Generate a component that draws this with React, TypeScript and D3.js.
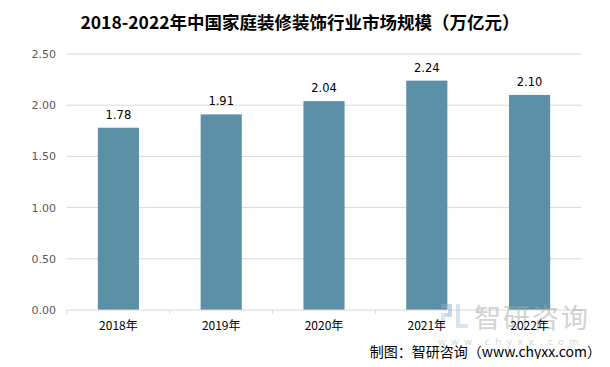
import { scaleBand, scaleLinear } from "d3";

const years = ["2018年", "2019年", "2020年", "2021年", "2022年"];
const values = [1.78, 1.91, 2.04, 2.24, 2.1];
const yTicks = [0, 0.5, 1, 1.5, 2, 2.5];

const W = 610;
const H = 367;
const margin = { left: 67, right: 29, top: 54, bottom: 57 };

export default function App() {
  const x = scaleBand<string>()
    .domain(years)
    .range([margin.left, W - margin.right])
    .paddingInner(0.6)
    .paddingOuter(0.3);
  const y = scaleLinear().domain([0, 2.5]).range([H - margin.bottom, margin.top]);
  const step = x.step();
  const cjk = "'Noto Sans CJK SC', 'Noto Sans', sans-serif";

  return (
    <div style={{ margin: -8, width: W, height: H }}>
      <svg width={W} height={H} style={{ display: "block", fontFamily: cjk }}>
        <rect x={0} y={0} width={W} height={H} fill="#fff" />
        <rect x={2.5} y={2.5} width={604} height={363} fill="none" stroke="#a6a6a6" strokeWidth={1} />

        {/* Title */}
        <text x={300} y={29} textAnchor="middle" fontSize={17.5} fontWeight="bold" fill="#000">
          2018-2022年中国家庭装修装饰行业市场规模（万亿元）
        </text>

        {/* Grid */}
        {yTicks.map((t) => (
          <g key={t}>
            {t > 0 && (
              <line x1={margin.left} x2={W - margin.right} y1={y(t)} y2={y(t)} stroke="#d9d9d9" />
            )}
            <text x={56} y={y(t) + 4} textAnchor="end" fontSize={11} fill="#595959" fontFamily="'DejaVu Sans', sans-serif">
              {t.toFixed(2)}
            </text>
          </g>
        ))}

        {/* Bars */}
        {years.map((yr, i) => (
          <g key={yr}>
            <rect x={x(yr)} y={y(values[i])} width={x.bandwidth()} height={y(0) - y(values[i])} fill="#5b90a7" />
            <text x={(x(yr) ?? 0) + x.bandwidth() / 2} y={y(values[i]) - 9} textAnchor="middle" fontSize={11.5} fill="#000" fontFamily="'DejaVu Sans', sans-serif">
              {values[i].toFixed(2)}
            </text>
          </g>
        ))}

        {/* X axis */}
        <line x1={margin.left} x2={W - margin.right} y1={y(0)} y2={y(0)} stroke="#d9d9d9" />
        {years.map((yr, i) => (
          <line key={"t" + i} x1={margin.left + i * step} x2={margin.left + i * step} y1={y(0)} y2={y(0) + 4} stroke="#d9d9d9" />
        ))}
        <line x1={W - margin.right} x2={W - margin.right} y1={y(0)} y2={y(0) + 4} stroke="#d9d9d9" />

        {/* Watermark */}
        <g opacity={0.5}>
          <rect x={441} y={304} width={11} height={4} fill="#8fb0d0" />
          <rect x={448} y={304} width={4} height={13} fill="#8fb0d0" />
          <rect x={441} y={313} width={11} height={4} fill="#8fb0d0" />
          <rect x={441} y={313} width={4} height={15} fill="#b3cde4" />
          <rect x={456} y={304} width={4} height={24} fill="#b3cde4" />
          <rect x={456} y={324} width={12} height={4} fill="#b3cde4" />
          <text x={474} y={328} fontSize={27} fill="#a8a8a8" letterSpacing={2}>
            智研咨询
          </text>
        </g>
        <text x={438} y={345} fontSize={9.5} fill="#d6d6d6" letterSpacing={5.3} fontFamily="'DejaVu Sans', sans-serif">
          www.chyxx.com
        </text>

        {years.map((yr) => (
          <text key={"l" + yr} x={(x(yr) ?? 0) + x.bandwidth() / 2} y={330} textAnchor="middle" fontSize={12} fill="#000">
            {yr}
          </text>
        ))}

        {/* Source */}
        <text x={601} y={357} textAnchor="end" fontSize={14} fill="#000">
          制图：智研咨询（www.chyxx.com）
        </text>
      </svg>
    </div>
  );
}
